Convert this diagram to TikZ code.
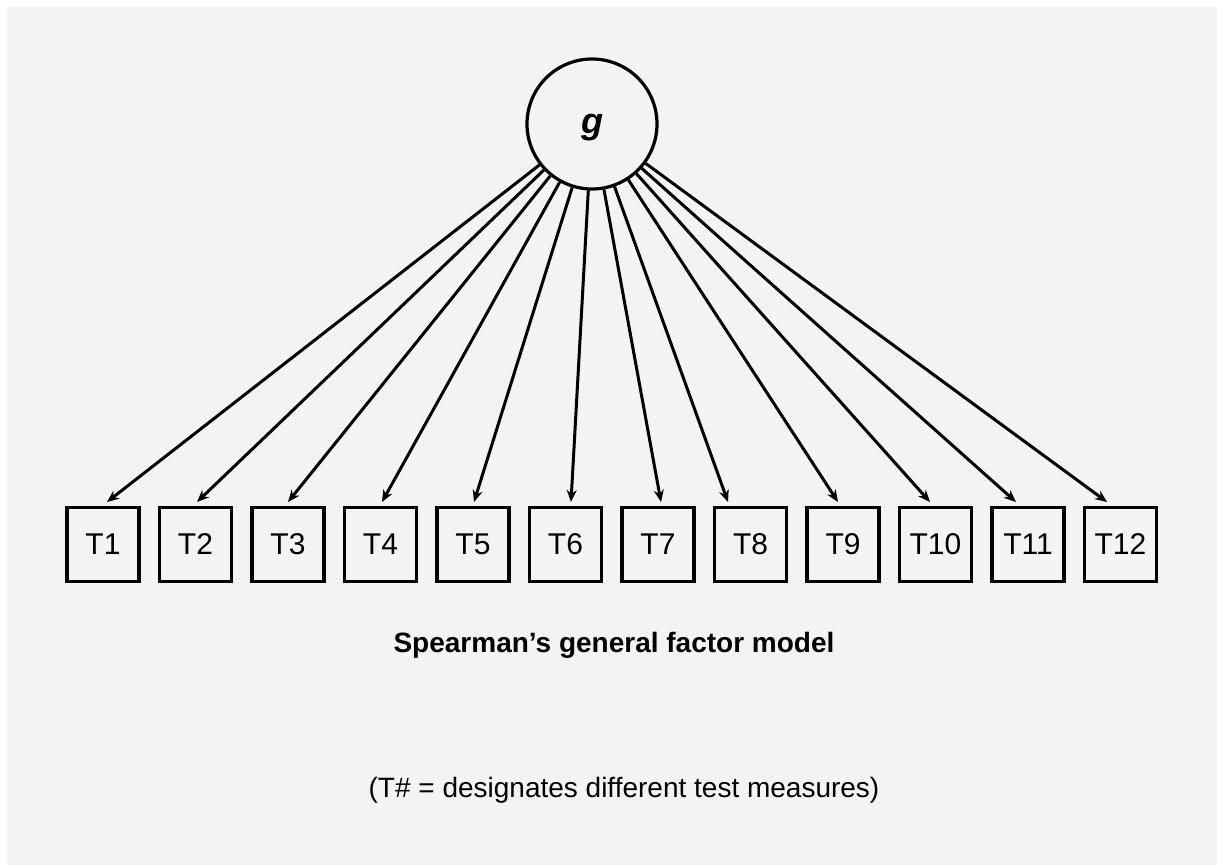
\documentclass[tikz,border=0pt]{standalone}
\usepackage{fontspec}
\setmainfont{Liberation Sans}
\usetikzlibrary{arrows.meta}
\definecolor{bg}{HTML}{F3F3F3}
\begin{document}
\begin{tikzpicture}[x=0.5pt,y=-0.5pt,
  testbox/.style={draw, line width=1.6pt, minimum width=36pt, minimum height=37pt, inner sep=0pt, font=\fontsize{15}{18}\selectfont},
  factor/.style={circle, draw, line width=1.6pt, minimum size=65pt, inner sep=0pt},
  arr/.style={line width=1.5pt, -{Stealth[length=6pt,width=5pt]}}]
\fill[white] (0,0) rectangle (1217,865);
\fill[bg] (7,7) rectangle (1217,865);
\useasboundingbox (0,0) rectangle (1217,865);
\node[factor] (g) at (592,124) {};
\node[font=\fontsize{18}{21}\selectfont\bfseries\itshape] (glabel) at (592,128) {g};
\foreach \i in {1,...,12} {
  \node[testbox] (T\i) at ({103+(\i-1)*92.5},544.5) {T\i};
}
\foreach \i/\x in {1/107,2/197,3/288,4/382,5/474,6/571,7/661,8/728,9/838,10/930,11/1016,12/1107} {
  \coordinate (tip\i) at (\x,502);
  \draw[arr] (g) -- (tip\i);
}
\node[font=\fontsize{14}{17}\selectfont\bfseries] (cap) at (614,645) {Spearman’s general factor model};
\node[font=\fontsize{14}{17}\selectfont] (note) at (624,790) {(T\# = designates different test measures)};
\end{tikzpicture}
\end{document}
